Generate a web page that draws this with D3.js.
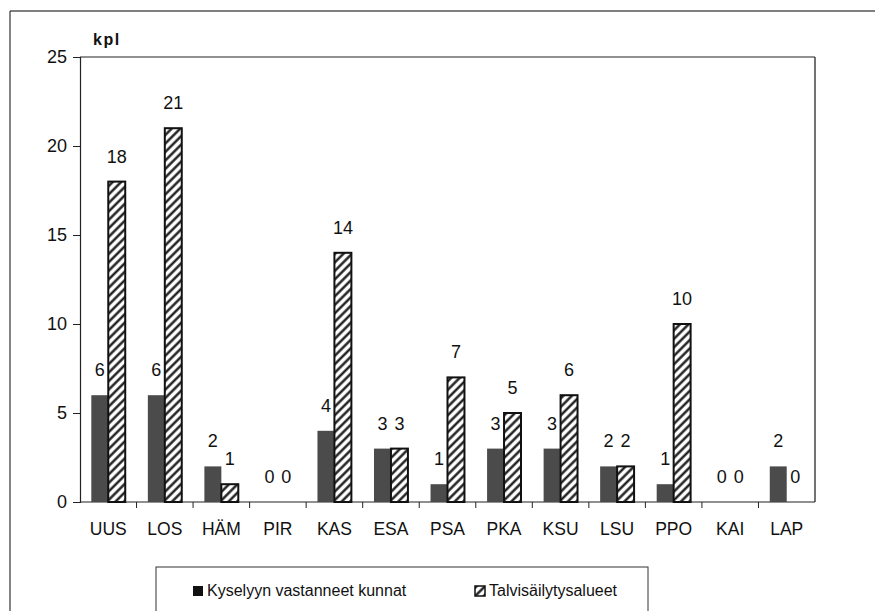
<!DOCTYPE html>
<html>
<head>
<meta charset="utf-8">
<script src="https://cdn.jsdelivr.net/npm/d3@7"></script>
<style>
  body { margin: 0; background: #fff; }
  svg { font-family: "Liberation Sans", Arial, sans-serif; }
</style>
</head>
<body>
<svg id="chart" width="875" height="611"></svg>
<script>
// regions (x axis)
const regions = ['UUS', 'LOS', 'HÄM', 'PIR', 'KAS', 'ESA', 'PSA', 'PKA', 'KSU', 'LSU', 'PPO', 'KAI', 'LAP'];
// Kyselyyn vastanneet kunnat
const municipalities = [6, 6, 2, 0, 4, 3, 1, 3, 3, 2, 1, 0, 2];
// Talvisäilytysalueet
const storageAreas = [18, 21, 1, 0, 14, 3, 7, 5, 6, 2, 10, 0, 0];
const yTicks = [0, 5, 10, 15, 20, 25];
const seriesNames = ['Kyselyyn vastanneet kunnat', 'Talvisäilytysalueet'];

const margin = {top: 57, right: 60, bottom: 109, left: 80};
const width = 875 - margin.left - margin.right;
const height = 611 - margin.top - margin.bottom;

const svg = d3.select('#chart');

// hatch pattern
const defs = svg.append('defs');
defs.append('pattern')
    .attr('id', 'hatch')
    .attr('patternUnits', 'userSpaceOnUse')
    .attr('width', 6)
    .attr('height', 6)
    .attr('patternTransform', 'rotate(45)')
  .call(p => {
    p.append('rect').attr('width', 6).attr('height', 6).attr('fill', '#fff');
    p.append('line')
        .attr('x1', 1.5).attr('y1', 0).attr('x2', 1.5).attr('y2', 6)
        .attr('stroke', '#111').attr('stroke-width', 2.3);
  });

// outer frame lines
svg.append('line').attr('x1', 10).attr('y1', 11).attr('x2', 875).attr('y2', 11)
    .attr('stroke', '#555').attr('stroke-width', 1.5);
svg.append('line').attr('x1', 10).attr('y1', 11).attr('x2', 10).attr('y2', 611)
    .attr('stroke', '#333').attr('stroke-width', 1.2);

const chart = svg.append('g')
    .attr('transform', `translate(${margin.left},${margin.top})`);

// scales
const x = d3.scaleBand()
    .domain(regions)
    .range([0, width])
    .paddingInner(0.4)
    .paddingOuter(0.2);

const xSub = d3.scaleBand()
    .domain([0, 1])
    .range([0, x.bandwidth()]);

const y = d3.scaleLinear()
    .domain([0, 25])
    .range([height, 0]);

// plot frame (top + right)
chart.append('line').attr('x1', 0).attr('x2', width).attr('y1', 0).attr('y2', 0)
    .attr('stroke', '#222').attr('stroke-width', 1.2);
chart.append('line').attr('x1', width).attr('x2', width).attr('y1', 0).attr('y2', height)
    .attr('stroke', '#444').attr('stroke-width', 1.5);

// y axis
const yAxis = chart.append('g')
    .call(d3.axisLeft(y).tickValues(yTicks).tickSize(7).tickPadding(6));
yAxis.select('.domain').attr('stroke', '#222').attr('stroke-width', 1.2);
yAxis.selectAll('.tick line').attr('stroke', '#222');
yAxis.selectAll('text')
    .attr('font-size', '18px')
    .attr('fill', '#111')
    .style('font-family', '"Liberation Sans", Arial, sans-serif');

// x axis with ticks between categories
const xAxis = chart.append('g')
    .attr('transform', `translate(0,${height})`);
xAxis.append('line')
    .attr('x1', 0).attr('x2', width)
    .attr('stroke', '#222').attr('stroke-width', 1.2);
const boundaries = regions.map(r => x(r) - x.step() * x.paddingInner() / 2);
xAxis.selectAll('.xtick')
    .data(boundaries.slice(1))
  .join('line')
    .attr('class', 'xtick')
    .attr('x1', d => d).attr('x2', d => d)
    .attr('y1', 0).attr('y2', 6)
    .attr('stroke', '#222');
xAxis.selectAll('.xlabel')
    .data(regions)
  .join('text')
    .attr('class', 'xlabel')
    .attr('x', d => x(d) + x.bandwidth() / 2)
    .attr('y', 33)
    .attr('text-anchor', 'middle')
    .attr('font-size', '17.5px')
    .attr('fill', '#111')
    .text(d => d);

// unit label
chart.append('text')
    .attr('x', 13)
    .attr('y', -12)
    .attr('font-size', '16px')
    .attr('font-weight', 'bold')
    .attr('letter-spacing', '1.5px')
    .attr('fill', '#111')
    .text('kpl');

// bars
const rows = regions.map((r, i) => ({region: r, values: [municipalities[i], storageAreas[i]]}));

const groups = chart.selectAll('.group')
    .data(rows)
  .join('g')
    .attr('class', 'group')
    .attr('transform', d => `translate(${x(d.region)},0)`);

groups.selectAll('rect')
    .data(d => d.values.map((v, s) => ({v, s})))
  .join('rect')
    .attr('x', d => xSub(d.s))
    .attr('y', d => y(d.v))
    .attr('width', xSub.bandwidth())
    .attr('height', d => height - y(d.v))
    .attr('fill', d => d.s === 0 ? '#4b4b4b' : 'url(#hatch)')
    .attr('stroke', d => d.s === 0 ? 'none' : (d.v > 0 ? '#111' : 'none'))
    .attr('stroke-width', 2);

// value labels
groups.selectAll('text')
    .data(d => d.values.map((v, s) => ({v, s})))
  .join('text')
    .attr('x', d => xSub(d.s) + xSub.bandwidth() / 2)
    .attr('y', d => y(d.v) - 19)
    .attr('text-anchor', 'middle')
    .attr('font-size', '18px')
    .attr('fill', '#111')
    .text(d => d.v);

// legend
const legend = svg.append('g');
legend.append('rect')
    .attr('x', 156).attr('y', 567)
    .attr('width', 492).attr('height', 60)
    .attr('fill', '#fff')
    .attr('stroke', '#333').attr('stroke-width', 1);

const legendItems = [
  {name: seriesNames[0], x: 193, fill: '#111', stroke: 'none'},
  {name: seriesNames[1], x: 475, fill: 'url(#hatch)', stroke: '#111'}
];
legendItems.forEach(item => {
  legend.append('rect')
      .attr('x', item.x).attr('y', 586)
      .attr('width', 10).attr('height', 10)
      .attr('fill', item.fill)
      .attr('stroke', item.stroke)
      .attr('stroke-width', 1.5);
  legend.append('text')
      .attr('x', item.x + 14)
      .attr('y', 596)
      .attr('font-size', '16px')
      .attr('fill', '#111')
      .text(item.name);
});
</script>
</body>
</html>
